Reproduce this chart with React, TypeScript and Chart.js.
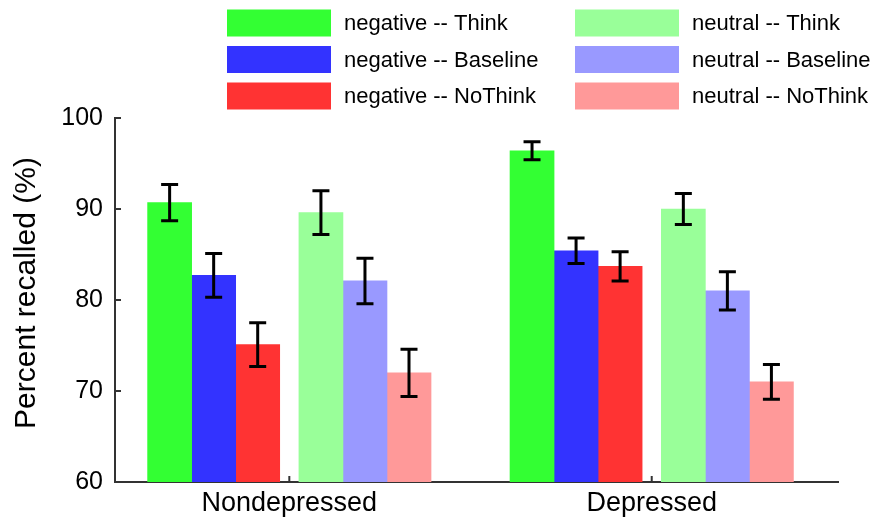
import React, { useEffect, useRef } from 'react';
import { Chart, registerables } from 'chart.js';

Chart.register(...registerables);

// ---- data ----
const GROUPS = ['Nondepressed', 'Depressed'];
const SERIES_LABELS = [
  'negative -- Think',
  'negative -- Baseline',
  'negative -- NoThink',
  'neutral -- Think',
  'neutral -- Baseline',
  'neutral -- NoThink',
];
const NEG_THINK = [90.7, 96.4];
const NEG_BASELINE = [82.7, 85.4];
const NEG_NOTHINK = [75.1, 83.7];
const NEU_THINK = [89.6, 90.0];
const NEU_BASELINE = [82.1, 81.0];
const NEU_NOTHINK = [72.0, 71.0];

const NEG_THINK_ERR = [2.0, 1.0];
const NEG_BASELINE_ERR = [2.4, 1.4];
const NEG_NOTHINK_ERR = [2.4, 1.6];
const NEU_THINK_ERR = [2.4, 1.7];
const NEU_BASELINE_ERR = [2.5, 2.1];
const NEU_NOTHINK_ERR = [2.6, 1.9];

const Y_MIN = 60;
const Y_MAX = 100;
const Y_STEP = 10;
const Y_TITLE = 'Percent recalled (%)';

// ---- styles ----
const COLORS = ['#33ff33', '#3333ff', '#ff3333', '#99ff99', '#9999ff', '#ff9999'];
const FONT = '"Liberation Sans", Arial, sans-serif';
const AXIS_COLOR = '#333333';

// layout in x-axis units (group centres at 1, 2)
const BAR_W = 0.1215;
const MID_GAP = 0.053;
const X_MIN = 0.519;
const X_MAX = 2.514;

const VALUES = [NEG_THINK, NEG_BASELINE, NEG_NOTHINK, NEU_THINK, NEU_BASELINE, NEU_NOTHINK];
const ERRORS = [NEG_THINK_ERR, NEG_BASELINE_ERR, NEG_NOTHINK_ERR, NEU_THINK_ERR, NEU_BASELINE_ERR, NEU_NOTHINK_ERR];

function barOffset(s: number): number {
  const cond = s % 3;
  if (s < 3) return -(MID_GAP / 2 + BAR_W / 2 + (2 - cond) * BAR_W);
  return MID_GAP / 2 + BAR_W / 2 + cond * BAR_W;
}

const errorBarsPlugin = {
  id: 'errorBars',
  afterDatasetsDraw(chart: any) {
    const { ctx } = chart;
    const y = chart.scales.y;
    ctx.save();
    ctx.strokeStyle = '#000';
    ctx.lineWidth = 3;
    chart.data.datasets.forEach((ds: any, di: number) => {
      const meta = chart.getDatasetMeta(di);
      meta.data.forEach((bar: any, i: number) => {
        const v = ds.data[i].y;
        const e = ds.errors[i];
        const top = y.getPixelForValue(v + e);
        const bot = y.getPixelForValue(v - e);
        const x = bar.x;
        const cw = 8.5;
        ctx.beginPath();
        ctx.moveTo(x, top);
        ctx.lineTo(x, bot);
        ctx.moveTo(x - cw, top);
        ctx.lineTo(x + cw, top);
        ctx.moveTo(x - cw, bot);
        ctx.lineTo(x + cw, bot);
        ctx.stroke();
      });
    });
    ctx.restore();
  },
};

const innerTicksPlugin = {
  id: 'innerTicks',
  afterDraw(chart: any) {
    const { ctx, chartArea } = chart;
    const y = chart.scales.y;
    const x = chart.scales.x;
    ctx.save();
    ctx.strokeStyle = AXIS_COLOR;
    ctx.lineWidth = 2;
    ctx.beginPath();
    y.ticks.forEach((t: any) => {
      const py = y.getPixelForValue(t.value);
      ctx.moveTo(chartArea.left, py);
      ctx.lineTo(chartArea.left + 6, py);
    });
    x.ticks.forEach((t: any) => {
      const px = x.getPixelForValue(t.value);
      ctx.moveTo(px, chartArea.bottom);
      ctx.lineTo(px, chartArea.bottom - 6);
    });
    ctx.stroke();

    // y-axis title
    ctx.translate(27, (chartArea.top + chartArea.bottom) / 2 - 7);
    ctx.rotate(-Math.PI / 2);
    ctx.font = `30px ${FONT}`;
    ctx.fillStyle = '#000';
    ctx.textAlign = 'center';
    ctx.textBaseline = 'middle';
    ctx.fillText(Y_TITLE, 0, 0);
    ctx.restore();
  },
};

const legendPlugin = {
  id: 'customLegend',
  afterDraw(chart: any) {
    const { ctx } = chart;
    const colX = [227, 575];
    const rowTop = [9.5, 46, 82.5];
    const rw = 104;
    const rh = 27;
    ctx.save();
    ctx.font = `22px ${FONT}`;
    ctx.textBaseline = 'middle';
    ctx.textAlign = 'left';
    chart.data.datasets.forEach((ds: any, di: number) => {
      const col = di < 3 ? 0 : 1;
      const row = di % 3;
      const x0 = colX[col];
      const y0 = rowTop[row];
      ctx.fillStyle = ds.backgroundColor;
      ctx.fillRect(x0, y0, rw, rh);
      ctx.fillStyle = '#000';
      ctx.fillText(ds.label, x0 + rw + 13, y0 + rh / 2 + 1);
    });
    ctx.restore();
  },
};

export default function App() {
  const canvasRef = useRef<HTMLCanvasElement | null>(null);

  useEffect(() => {
    if (!canvasRef.current) return;
    const datasets = VALUES.map((vals, s) => ({
      label: SERIES_LABELS[s],
      data: vals.map((v, g) => ({ x: g + 1 + barOffset(s), y: v })),
      errors: ERRORS[s],
      backgroundColor: COLORS[s],
      borderWidth: 0,
      grouped: false,
      barPercentage: 1,
      categoryPercentage: 1,
    }));

    const chart = new Chart(canvasRef.current, {
      type: 'bar',
      data: { datasets: datasets as any },
      options: {
        animation: false,
        responsive: false,
        maintainAspectRatio: false,
        layout: { padding: { top: 118, right: 39, bottom: 0, left: 0 } },
        plugins: {
          legend: { display: false },
          tooltip: { enabled: false },
        },
        scales: {
          x: {
            type: 'linear',
            min: X_MIN,
            max: X_MAX,
            offset: false,
            grid: { display: false, drawTicks: false },
            border: { display: true, color: AXIS_COLOR, width: 2 },
            afterBuildTicks: (scale: any) => {
              scale.ticks = GROUPS.map((_, i) => ({ value: i + 1 }));
            },
            afterFit: (scale: any) => {
              scale.height = 37;
            },
            ticks: {
              padding: 5,
              color: '#000',
              font: { family: FONT, size: 27 },
              callback: (_v: any, i: number) => GROUPS[i],
              maxRotation: 0,
              autoSkip: false,
            },
          },
          y: {
            min: Y_MIN,
            max: Y_MAX,
            grid: { display: false, drawTicks: false },
            border: { display: true, color: AXIS_COLOR, width: 2 },
            afterFit: (scale: any) => {
              scale.width = 115;
            },
            ticks: {
              stepSize: Y_STEP,
              padding: 12,
              color: '#000',
              font: { family: FONT, size: 25 },
            },
            title: { display: false },
          },
        },
      } as any,
      plugins: [errorBarsPlugin, innerTicksPlugin, legendPlugin],
    });
    return () => chart.destroy();
  }, []);

  return (
    <div style={{ position: 'fixed', left: 0, top: 0, width: 877, height: 519, background: '#fff' }}>
      <canvas ref={canvasRef} width={877} height={519} style={{ display: 'block', width: 877, height: 519 }} />
    </div>
  );
}
